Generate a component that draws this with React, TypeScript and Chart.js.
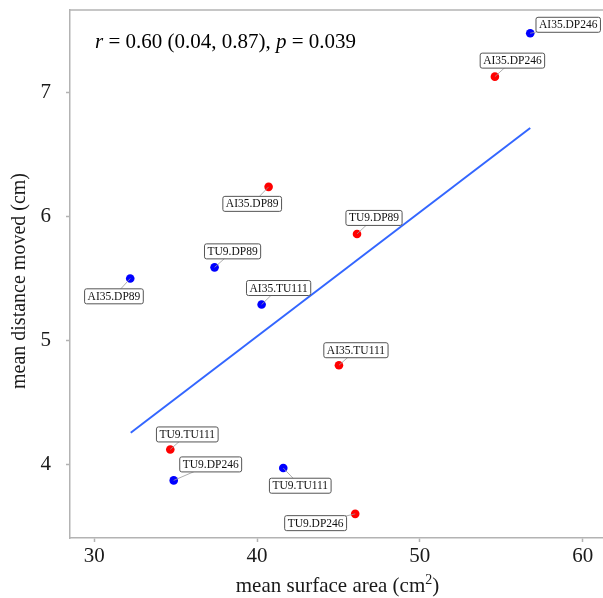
import React, { useEffect, useRef } from 'react';
import { Chart, registerables } from 'chart.js';

Chart.register(...registerables);

// ---- data ----
const redLabels = ['AI35.DP246', 'AI35.DP89', 'TU9.DP89', 'AI35.TU111', 'TU9.TU111', 'TU9.DP246'];
const redX = [54.61, 40.71, 46.14, 45.03, 34.67, 46.03];
const redY = [7.13, 6.24, 5.86, 4.8, 4.12, 3.6];

const blueLabels = ['AI35.DP246', 'TU9.DP89', 'AI35.DP89', 'AI35.TU111', 'TU9.DP246', 'TU9.TU111'];
const blueX = [56.78, 37.39, 32.21, 40.28, 34.88, 41.61];
const blueY = [7.48, 5.59, 5.5, 5.29, 3.87, 3.97];

const fitX = [32.24, 56.78];
const fitY = [4.255, 6.715];

const xTickValues = [30, 40, 50, 60];
const yTickValues = [4, 5, 6, 7];

// label box offsets from point (pixels), layout only
const redLabelOffsets = [[17.5, -16], [-16.4, 17], [17, -16], [17, -15], [17, -15], [-39.6, 9.3]];
const blueLabelOffsets = [[38, -8.5], [18, -16], [-16.3, 17.8], [17, -16.5], [37, -16], [17, 17.7]];

const FONT = '"Liberation Serif", "Times New Roman", Times, serif';
const AXIS_GRAY = '#b3b3b3';

export default function App() {
  const ref = useRef<HTMLCanvasElement>(null);

  useEffect(() => {
    document.body.style.margin = '0';
    const canvas = ref.current!;

    const custom = {
      id: 'custom',
      afterDatasetsDraw(chart: any) {
        const ctx = chart.ctx as CanvasRenderingContext2D;
        const groups = [
          { idx: 1, labels: redLabels, offs: redLabelOffsets },
          { idx: 2, labels: blueLabels, offs: blueLabelOffsets },
        ];
        ctx.save();
        ctx.font = `11.5px ${FONT}`;
        ctx.textAlign = 'center';
        ctx.textBaseline = 'middle';
        for (const g of groups) {
          const meta = chart.getDatasetMeta(g.idx);
          meta.data.forEach((el: any, i: number) => {
            const px = el.x, py = el.y;
            const cx = px + g.offs[i][0];
            const cy = py + g.offs[i][1];
            const tw = ctx.measureText(g.labels[i]).width;
            const w = tw + 6, h = 15;
            ctx.strokeStyle = '#9a9a9a';
            ctx.lineWidth = 0.8;
            ctx.beginPath();
            ctx.moveTo(px, py);
            ctx.lineTo(cx, cy);
            ctx.stroke();
            ctx.beginPath();
            (ctx as any).roundRect(cx - w / 2, cy - h / 2, w, h, 2);
            ctx.fillStyle = '#ffffff';
            ctx.fill();
            ctx.strokeStyle = '#555555';
            ctx.lineWidth = 1;
            ctx.stroke();
            ctx.fillStyle = '#111111';
            ctx.fillText(g.labels[i], cx, cy + 0.5);
          });
        }
        ctx.restore();
      },
      afterDraw(chart: any) {
        const ctx = chart.ctx as CanvasRenderingContext2D;
        const a = chart.chartArea;
        ctx.save();
        // top border
        ctx.strokeStyle = AXIS_GRAY;
        ctx.lineWidth = 1.5;
        ctx.beginPath();
        ctx.moveTo(a.left, a.top);
        ctx.lineTo(a.right, a.top);
        ctx.stroke();

        // annotation
        const segs: [string, boolean][] = [
          ['r', true],
          [' = 0.60 (0.04, 0.87), ', false],
          ['p', true],
          [' = 0.039', false],
        ];
        let x = 95;
        const base = 48;
        ctx.fillStyle = '#000000';
        ctx.textBaseline = 'alphabetic';
        ctx.textAlign = 'left';
        for (const [t, it] of segs) {
          ctx.font = `${it ? 'italic ' : ''}21px ${FONT}`;
          ctx.fillText(t, x, base);
          x += ctx.measureText(t).width;
        }

        // x title with superscript
        ctx.fillStyle = '#1a1a1a';
        const main = 'mean surface area (cm';
        ctx.font = `21px ${FONT}`;
        const wMain = ctx.measureText(main).width;
        ctx.font = `14px ${FONT}`;
        const wSup = ctx.measureText('2').width;
        ctx.font = `21px ${FONT}`;
        const wEnd = ctx.measureText(')').width;
        const total = wMain + wSup + wEnd;
        let tx = (a.left + a.right) / 2 - total / 2 + 1;
        const tb = 592;
        ctx.fillText(main, tx, tb);
        tx += wMain;
        ctx.font = `14px ${FONT}`;
        ctx.fillText('2', tx, tb - 8);
        tx += wSup;
        ctx.font = `21px ${FONT}`;
        ctx.fillText(')', tx, tb);

        // y title
        ctx.save();
        ctx.translate(25, 281);
        ctx.rotate(-Math.PI / 2);
        ctx.textAlign = 'center';
        ctx.font = `20px ${FONT}`;
        ctx.fillText('mean distance moved (cm)', 0, 0);
        ctx.restore();
        ctx.restore();
      },
    };

    const chart = new Chart(canvas, {
      type: 'scatter',
      data: {
        datasets: [
          {
            type: 'line',
            label: 'linear fit',
            data: fitX.map((x, i) => ({ x, y: fitY[i] })),
            borderColor: '#3366ff',
            borderWidth: 2,
            pointRadius: 0,
            fill: false,
          } as any,
          {
            label: 'red group',
            data: redX.map((x, i) => ({ x, y: redY[i] })),
            backgroundColor: '#ff0000',
            borderColor: '#ff0000',
            pointRadius: 4.3,
            borderWidth: 0,
          },
          {
            label: 'blue group',
            data: blueX.map((x, i) => ({ x, y: blueY[i] })),
            backgroundColor: '#0000ff',
            borderColor: '#0000ff',
            pointRadius: 4.3,
            borderWidth: 0,
          },
        ],
      },
      options: {
        responsive: false,
        animation: false,
        layout: { autoPadding: false, padding: { top: 10, right: 0, left: 0, bottom: 0 } },
        plugins: { legend: { display: false }, tooltip: { enabled: false } },
        scales: {
          x: {
            type: 'linear',
            min: 28.51,
            max: 61.25,
            afterFit: (s: any) => {
              s.height = 60;
              s.paddingLeft = 0;
              s.paddingRight = 0;
              s.paddingTop = 0;
              s.paddingBottom = 0;
            },
            afterBuildTicks: (s: any) => { s.ticks = xTickValues.map((v) => ({ value: v })); },
            ticks: { font: { family: FONT, size: 21 }, color: '#1a1a1a', padding: 2 },
            grid: { drawOnChartArea: false, tickLength: 4, tickColor: AXIS_GRAY, tickWidth: 1.5 },
            border: { color: AXIS_GRAY, width: 1.5 },
          },
          y: {
            type: 'linear',
            min: 3.405,
            max: 7.668,
            afterFit: (s: any) => {
              s.width = 70;
              s.paddingLeft = 0;
              s.paddingRight = 0;
              s.paddingTop = 0;
              s.paddingBottom = 0;
            },
            afterBuildTicks: (s: any) => { s.ticks = yTickValues.map((v) => ({ value: v })); },
            ticks: { font: { family: FONT, size: 21 }, color: '#1a1a1a', padding: 15 },
            grid: { drawOnChartArea: false, tickLength: 4, tickColor: AXIS_GRAY, tickWidth: 1.5 },
            border: { color: AXIS_GRAY, width: 1.5 },
          },
        },
      },
      plugins: [custom],
    });
    return () => chart.destroy();
  }, []);

  return (
    <div style={{ width: 603, height: 598 }}>
      <canvas ref={ref} width={603} height={598} style={{ display: 'block' }} />
    </div>
  );
}
